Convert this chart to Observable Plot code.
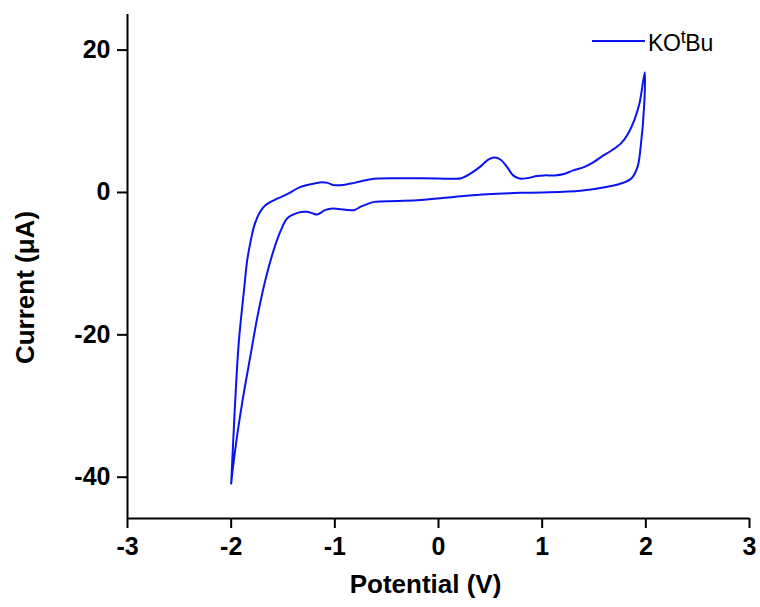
<!DOCTYPE html>
<html>
<head>
<meta charset="utf-8">
<script src="https://cdn.jsdelivr.net/npm/d3@7"></script>
<script src="https://cdn.jsdelivr.net/npm/@observablehq/plot@0.6"></script>
<style>
  body { margin: 0; background: #fff; }
  #wrap { position: relative; width: 760px; height: 607px; }
  #legend { position: absolute; left: 0; top: 0; pointer-events: none; }
</style>
</head>
<body>
<div id="wrap"></div>
<script>
// Cyclic voltammogram, KOtBu, one closed loop
const potential = [
  -2.00, -1.983, -1.957, -1.925, -1.876, -1.845, -1.81, -1.78, -1.73, -1.67, -1.55, -1.46, -1.33, -1.20, -1.12, -1.07,
  -1.01, -0.90, -0.81, -0.69, -0.60, -0.40, -0.17, 0.00, 0.15, 0.22, 0.31, 0.40, 0.48, 0.54, 0.60, 0.66,
  0.72, 0.78, 0.85, 0.95, 1.02, 1.12, 1.21, 1.30, 1.41, 1.50, 1.57, 1.67, 1.76, 1.83, 1.89, 1.94, 1.99,
  1.985, 1.95, 1.92, 1.86, 1.76, 1.63, 1.37, 1.00, 0.79, 0.47, 0.15, -0.17, -0.40, -0.62, -0.70, -0.75,
  -0.81, -0.88, -0.94, -1.02, -1.09, -1.17, -1.22, -1.27, -1.36, -1.46, -1.52, -1.59, -1.67, -1.75, -1.81,
  -1.89, -1.94, -1.99, -2.00
];
const current = [
  -40.9, -35.75, -28.2, -20.75, -13.7, -9.5, -6.7, -4.8, -2.95, -1.8, -0.84, -0.24, 0.79, 1.26, 1.45, 1.35,
  1.03, 1.1, 1.35, 1.75, 1.95, 2.0, 1.98, 1.95, 1.92, 2.0, 2.67, 3.6, 4.6, 4.9, 4.6, 3.6,
  2.4, 1.96, 2.0, 2.3, 2.4, 2.4, 2.6, 3.1, 3.6, 4.3, 5.0, 5.9, 6.9, 8.3, 10.2, 12.6, 16.9,
  12.5, 6.4, 3.6, 1.97, 1.26, 0.8, 0.23, 0.0, -0.05, -0.24, -0.62, -1.05, -1.2, -1.32, -1.7, -2.0,
  -2.45, -2.45, -2.35, -2.25, -2.45, -3.1, -2.9, -2.72, -2.87, -3.65, -5.3, -8.1, -12.3, -17.7, -22.6,
  -29.2, -33.9, -39.5, -40.9
];
const xTicks = [-3, -2, -1, 0, 1, 2, 3];
const yTicks = [-40, -20, 0, 20];
const xDomain = [-3, 3];
const yDomain = [-45.8, 25];
const xLabel = "Potential (V)";
const yLabel = "Current (μA)";
const seriesName = ["KO", "t", "Bu"];

const data = potential.map((v, i) => ({v, c: current[i], i}));
const font = "'Liberation Sans', Arial, Helvetica, sans-serif";

const chart = Plot.plot({
  width: 760,
  height: 607,
  marginLeft: 127,
  marginRight: 11,
  marginTop: 14,
  marginBottom: 89,
  style: {fontFamily: font, background: "#fff", color: "#000", overflow: "visible"},
  x: {domain: xDomain},
  y: {domain: yDomain},
  marks: [
    Plot.axisX({ticks: xTicks, tickFormat: d => String(d).replace("−", "-"), label: null, tickSize: 10, tickPadding: 9,
      strokeWidth: 2, fontSize: 25, fontWeight: "bold", letterSpacing: -0.5}),
    Plot.axisY({ticks: yTicks, tickFormat: d => String(d).replace("−", "-"), label: null, tickSize: 10, tickPadding: 7,
      strokeWidth: 2, fontSize: 25, fontWeight: "bold", letterSpacing: -0.5}),
    Plot.ruleX([xDomain[0]], {stroke: "#000", strokeWidth: 2}),
    Plot.ruleY([yDomain[0]], {stroke: "#000", strokeWidth: 2}),
    Plot.line(data, {x: "v", y: "c", sort: null, curve: "catmull-rom", stroke: "#0a14f0", strokeWidth: 2}),
    Plot.text([xLabel], {frameAnchor: "bottom", textAnchor: "middle", lineAnchor: "middle", dx: -13, dy: 66,
      fontSize: 26, fontWeight: "bold", letterSpacing: -0.6, fill: "#000"}),
    Plot.text([yLabel], {frameAnchor: "left", textAnchor: "middle", lineAnchor: "middle", rotate: -90, dx: -102, dy: 21,
      fontSize: 26, fontWeight: "bold", letterSpacing: -0.6, fill: "#000"})
  ]
});

const wrap = document.getElementById("wrap");
wrap.appendChild(chart);

// legend overlay
const ns = "http://www.w3.org/2000/svg";
const leg = document.createElementNS(ns, "svg");
leg.setAttribute("id", "legend");
leg.setAttribute("width", 760);
leg.setAttribute("height", 80);
const ln = document.createElementNS(ns, "line");
ln.setAttribute("x1", 592); ln.setAttribute("x2", 645);
ln.setAttribute("y1", 41); ln.setAttribute("y2", 41);
ln.setAttribute("stroke", "#0a14f0"); ln.setAttribute("stroke-width", 2);
leg.appendChild(ln);
const tx = document.createElementNS(ns, "text");
tx.setAttribute("x", 648); tx.setAttribute("y", 51);
tx.setAttribute("font-family", font);
tx.setAttribute("font-size", 23);
tx.setAttribute("letter-spacing", -0.3);
tx.setAttribute("fill", "#000");
const t1 = document.createElementNS(ns, "tspan"); t1.textContent = seriesName[0];
const t2 = document.createElementNS(ns, "tspan"); t2.textContent = seriesName[1];
t2.setAttribute("font-size", 18); t2.setAttribute("dy", -8);
const t3 = document.createElementNS(ns, "tspan"); t3.textContent = seriesName[2]; t3.setAttribute("dy", 8);
tx.appendChild(t1); tx.appendChild(t2); tx.appendChild(t3);
leg.appendChild(tx);
wrap.appendChild(leg);
</script>
</body>
</html>
